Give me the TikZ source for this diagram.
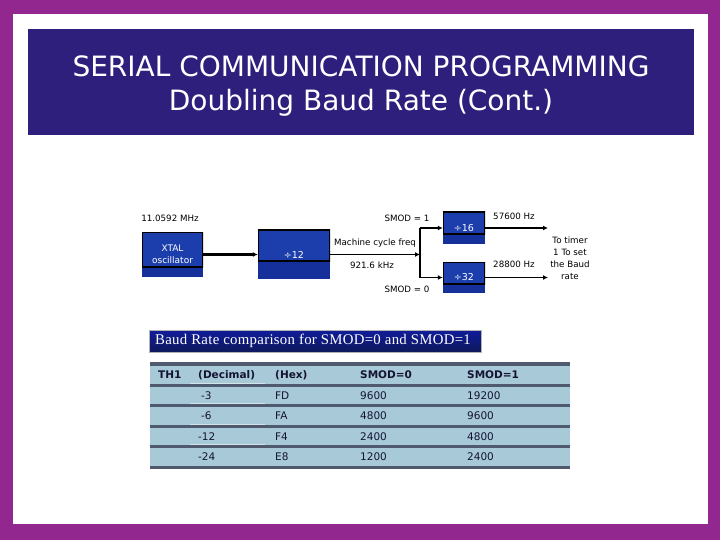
\documentclass[tikz,border=0pt]{standalone}
\usepackage{fontspec}
\setmainfont{DejaVu Sans}
\newfontfamily\capserif[LetterSpace=2]{Liberation Serif}
\usetikzlibrary{arrows.meta}
\definecolor{framepurple}{RGB}{146,40,143}
\definecolor{titlebg}{RGB}{47,31,124}
\definecolor{boxup}{RGB}{28,62,172}
\definecolor{boxstrip}{RGB}{22,48,155}
\definecolor{tabfill}{RGB}{168,201,216}
\definecolor{tabline}{RGB}{80,90,110}
\definecolor{tabtext}{RGB}{20,20,50}
\definecolor{capbg}{RGB}{20,35,130}
\begin{document}
\begin{tikzpicture}[x=1pt,y=-1pt,
  blockbox/.style={inner sep=0pt, text=white, font=\fontsize{9}{12.5}\selectfont, align=center,
    path picture={
      \fill[boxstrip] (path picture bounding box.south west) rectangle (path picture bounding box.north east);
      \fill[boxup] (path picture bounding box.north west) rectangle ([yshift=#1]path picture bounding box.south east);
      \draw[black, line width=1.2pt] (path picture bounding box.north west) rectangle ([yshift=#1]path picture bounding box.south east);
    }},
  lbl/.style={inner sep=0pt, font=\fontsize{8.7}{12}\selectfont, text=black},
  wire/.style={line width=1.6pt, -{Latex[length=5pt,width=5pt]}},
  plain/.style={line width=1.6pt},
  th/.style={anchor=west, inner sep=0pt, font=\bfseries\fontsize{10.5}{12}\selectfont, text=tabtext},
  td/.style={anchor=west, inner sep=0pt, font=\fontsize{10.5}{12}\selectfont, text=tabtext},
  sep/.style={tabline, line width=3pt}
]
\useasboundingbox (0,0) rectangle (720,540);
% frame
\fill[framepurple] (0,0) rectangle (720,540);
\fill[white] (13,14) rectangle (708,524);
\fill[titlebg] (28,29) rectangle (694,135);
\node[text=white, align=center, font=\fontsize{28}{34}\selectfont] (title) at (361,86)
  {SERIAL COMMUNICATION PROGRAMMING\\Doubling Baud Rate (Cont.)};

% blocks
\node[blockbox=10pt, minimum width=61pt, minimum height=45pt] (xtal) at (172.5,254.5) {XTAL\\oscillator};
\node[blockbox=18pt, minimum width=72pt, minimum height=49pt] (d12) at (294,254.5) {\raisebox{-6pt}{\fontsize{9.5}{12}\selectfont ÷12}};
\node[blockbox=10pt, minimum width=42pt, minimum height=32pt] (d16) at (464,228) {\fontsize{9.5}{12}\selectfont ÷16};
\node[blockbox=9pt, minimum width=42pt, minimum height=31pt] (d32) at (464,277.5) {\fontsize{9.5}{12}\selectfont ÷32};

% connectors
\coordinate (j) at (420,254.5);
\coordinate (o16) at (548,228);
\coordinate (o32) at (548,277.5);
\draw[wire, line width=2.6pt] (xtal) -- (d12);
\draw[wire] (d12) -- (j);
\draw[plain] (j |- d16) -- (j |- d32);
\draw[wire] (j |- d16) -- (d16);
\draw[wire] (j |- d32) -- (d32);
\draw[wire] (d16) -- (o16);
\draw[wire] (d32) -- (o32);

% labels
\node[lbl] (fx) at (170,218) {11.0592 MHz};
\node[lbl] (s1) at (407,218) {SMOD = 1};
\node[lbl] (s0) at (407,289) {SMOD = 0};
\node[lbl] (mc) at (375,243) {Machine cycle freq};
\node[lbl] (kh) at (372,265) {921.6 kHz};
\node[lbl] (h1) at (514,216) {57600 Hz};
\node[lbl] (h2) at (514,264) {28800 Hz};
\node[lbl, align=center] (tt) at (570,258) {To timer\\1 To set\\the Baud\\rate};

% caption
\node[draw=gray!60, line width=0.6pt, top color=capbg!80!blue, bottom color=capbg!70!black,
  minimum width=332pt, minimum height=22pt, inner sep=0pt] (cap) at (315,341) {};
\node[anchor=west, inner sep=0pt, text=white, font=\capserif\fontsize{14.8}{16}\selectfont] (captxt)
  at (155,341) {Baud Rate comparison for SMOD=0 and SMOD=1};

% table
\fill[tabfill] (150,363) rectangle (570,468);
\draw[tabline, line width=4pt] (150,364) -- (570,364);
\foreach \yy in {385.5,405.5,426,446} {
  \draw[sep] (150,\yy) -- (570,\yy);
  \draw[white, opacity=0.5, line width=0.6pt] (190,\yy-2) -- (265,\yy-2);
}
\draw[sep] (150,467) -- (570,467);
\node[th] (h0) at (158,375) {TH1};
\node[th] (hd) at (198,375) {(Decimal)};
\node[th] (hh) at (275,375) {(Hex)};
\node[th] (hs0) at (360,375) {SMOD=0};
\node[th] (hs1) at (467,375) {SMOD=1};
\node[td] (a1) at (201,396) {-3};
\node[td] (b1) at (275,396) {FD};
\node[td] (c1) at (360,396) {9600};
\node[td] (e1) at (467,396) {19200};
\node[td] (a2) at (201,416) {-6};
\node[td] (b2) at (275,416) {FA};
\node[td] (c2) at (360,416) {4800};
\node[td] (e2) at (467,416) {9600};
\node[td] (a3) at (198,436.5) {-12};
\node[td] (b3) at (275,436.5) {F4};
\node[td] (c3) at (360,436.5) {2400};
\node[td] (e3) at (467,436.5) {4800};
\node[td] (a4) at (198,457) {-24};
\node[td] (b4) at (275,457) {E8};
\node[td] (c4) at (360,457) {1200};
\node[td] (e4) at (467,457) {2400};
\end{tikzpicture}
\end{document}
